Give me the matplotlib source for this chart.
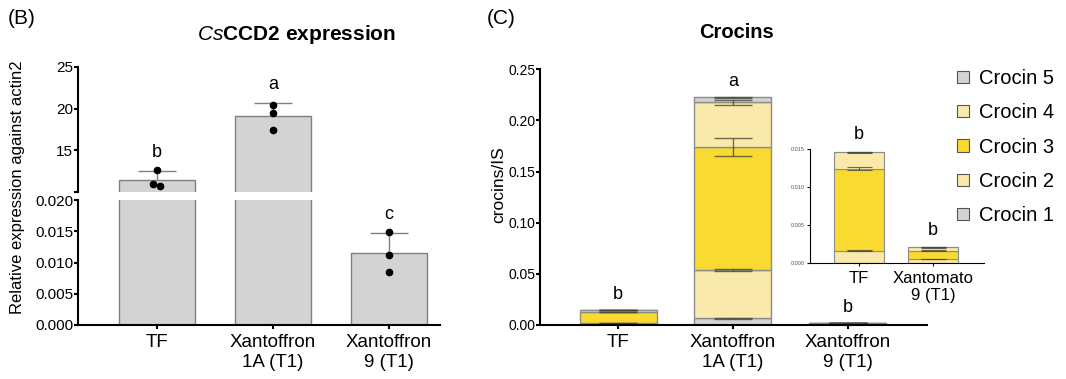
import numpy as np
import matplotlib
matplotlib.use('Agg')
import matplotlib.pyplot as plt
from matplotlib.patches import Patch

plt.rcParams['font.family'] = ['Liberation Sans', 'DejaVu Sans']
plt.rcParams['mathtext.fontset'] = 'custom'
plt.rcParams['mathtext.it'] = 'Liberation Sans:italic'
plt.rcParams['mathtext.bf'] = 'Liberation Sans:bold'
plt.rcParams['mathtext.rm'] = 'Liberation Sans'

# (B) CsCCD2 relative expression against actin2, three replicates per line
lines_b = ['TF', 'Xantoffron\n1A (T1)', 'Xantoffron\n9 (T1)']
rep_tf = [12.7, 10.9, 10.7]
rep_1a = [20.45, 19.5, 17.4]
rep_9 = [0.0149, 0.0112, 0.00855]
jitter_tf = [0.0, -0.035, 0.03]
letters_b = ['b', 'a', 'c']

# (C) crocins/IS, stacked crocin 1 (bottom) .. crocin 5 (top)
lines_c = ['TF', 'Xantoffron\n1A (T1)', 'Xantoffron\n9 (T1)']
crocin_names = ['Crocin 1', 'Crocin 2', 'Crocin 3', 'Crocin 4', 'Crocin 5']
crocin1 = [0.0, 0.0065, 0.0]
crocin2 = [0.00166, 0.0472, 0.00053]
crocin3 = [0.01079, 0.1205, 0.00113]
crocin4 = [0.00216, 0.0434, 0.00044]
crocin5 = [0.00005, 0.0049, 0.00003]
err1 = [0.0, 0.0003, 0.0]
err2 = [0.00003, 0.0007, 0.00002]
err3 = [0.0002, 0.0090, 0.00003]
err4 = [0.00005, 0.0026, 0.00003]
err5 = [0.00002, 0.0004, 0.00002]
letters_c = ['b', 'a', 'b']
inset_lines = ['TF', 'Xantomato\n9 (T1)']
inset_idx = [0, 2]
letters_inset = ['b', 'b']

GRAY = '#d3d3d3'
LYEL = '#f9e9aa'
YEL = '#f8da30'
seg_colors = [GRAY, LYEL, YEL, LYEL, GRAY]
ERR = '#4a4a3a'

W, H = 1066, 379
fig = plt.figure(figsize=(W / 100, H / 100), dpi=100)


def frac(x0, y_top, x1, y_bot):
    return [x0 / W, 1 - y_bot / H, (x1 - x0) / W, (y_bot - y_top) / H]


def style(ax, lw=1.5, tl=3, fs=10.5, pad=1):
    for s in ['top', 'right']:
        ax.spines[s].set_visible(False)
    for s in ['left', 'bottom']:
        ax.spines[s].set_linewidth(lw)
    ax.tick_params(width=lw, length=tl, labelsize=fs)
    ax.tick_params(axis='y', pad=pad)


# ---------------- panel B ----------------
ax_hi = fig.add_axes(frac(78, 67, 440, 192))
ax_lo = fig.add_axes(frac(78, 200, 440, 325))
reps = [rep_tf, rep_1a, rep_9]
means = [np.mean(r) for r in reps]
sds = [np.std(r, ddof=1) for r in reps]
xb = np.arange(len(lines_b))
for ax in (ax_hi, ax_lo):
    style(ax, fs=11, pad=0.5)
    ax.bar(xb, means, 0.66, color=GRAY, edgecolor='#808080', linewidth=1.0)
    ax.vlines(xb, means, np.add(means, sds), color='#808080', lw=1.0)
    ax.hlines(np.add(means, sds), xb - 0.165, xb + 0.165, color='#808080', lw=1.0)
    for i, r in enumerate(reps):
        dx = jitter_tf if i == 0 else [0, 0, 0]
        ax.plot(xb[i] + np.array(dx), r, 'o', color='k', ms=4.5, zorder=5)
    ax.set_xlim(-0.68, 2.44)

ax_hi.set_ylim(10, 25)
ax_hi.set_yticks([10, 15, 20, 25])
ax_hi.set_yticklabels(['', '15', '20', '25'])
ax_hi.spines['bottom'].set_visible(False)
ax_hi.set_xticks([])
ax_lo.set_ylim(0, 0.02)
ax_lo.set_yticks([0, 0.005, 0.01, 0.015, 0.02])
ax_lo.set_yticklabels(['0.000', '0.005', '0.010', '0.015', '0.020'])
ax_lo.set_xticks(xb)
ax_lo.set_xticklabels(lines_b, fontsize=13.5)
for i, lt in enumerate(letters_b):
    top = means[i] + sds[i]
    ax = ax_hi if top > 0.02 else ax_lo
    ax.annotate(lt, (xb[i], top), xytext=(0, 10), textcoords='offset points',
                ha='center', va='baseline', fontsize=13)

fig.text(18 / W, 1 - 187 / H, 'Relative expression against actin2', rotation=90,
         ha='center', va='center', fontsize=12)
fig.text(296 / W, 1 - 35 / H, r'$\mathit{Cs}\mathbf{CCD2\ expression}$',
         ha='center', va='center', fontsize=15)
fig.text(8 / W, 1 - 18 / H, '(B)', ha='left', va='center', fontsize=15)

# ---------------- panel C ----------------
stack = [crocin1, crocin2, crocin3, crocin4, crocin5]
errs = [err1, err2, err3, err4, err5]


def draw_stack(ax, idx, width, cap, lw):
    x = np.arange(len(idx))
    bottom = np.zeros(len(idx))
    for vals, e, c in zip(stack, errs, seg_colors):
        v = np.array(vals)[idx]
        ev = np.array(e)[idx]
        ax.bar(x, v, width, bottom=bottom, color=c, edgecolor='#8c8c8c', linewidth=lw)
        top = bottom + v
        m = v > 0
        ax.errorbar(x[m], top[m], yerr=ev[m], fmt='none', ecolor=ERR, capsize=cap,
                    elinewidth=lw, capthick=lw, alpha=0.8)
        bottom = top
    return x, bottom


ax_c = fig.add_axes(frac(540, 69.3, 927, 325))
style(ax_c, fs=10, pad=0.5)
xc, tops_c = draw_stack(ax_c, [0, 1, 2], 0.67, 14, 1.0)
ax_c.set_xlim(-0.68, 2.69)
ax_c.set_ylim(0, 0.25)
ax_c.set_yticks(np.arange(0, 0.26, 0.05))
ax_c.set_yticklabels([f'{v:.2f}' for v in np.arange(0, 0.26, 0.05)])
ax_c.set_xticks(xc)
ax_c.set_xticklabels(lines_c, fontsize=13.5)
for i, lt in enumerate(letters_c):
    ax_c.annotate(lt, (xc[i], tops_c[i]), xytext=(0, 8), textcoords='offset points',
                  ha='center', va='baseline', fontsize=13)
fig.text(499 / W, 1 - 185 / H, 'crocins/IS', rotation=90, ha='center', va='center',
         fontsize=12.5)
fig.text(737 / W, 1 - 33 / H, 'Crocins', ha='center', va='center', fontsize=14.5,
         fontweight='bold')
fig.text(487 / W, 1 - 18 / H, '(C)', ha='left', va='center', fontsize=15)

# inset
ax_in = fig.add_axes(frac(810, 149.3, 984, 263.3))
style(ax_in, lw=0.8, tl=2, fs=4, pad=2)
xi, tops_i = draw_stack(ax_in, inset_idx, 0.675, 9, 0.8)
ax_in.set_xlim(-0.66, 1.69)
ax_in.set_ylim(0, 0.015)
ax_in.set_yticks([0, 0.005, 0.01, 0.015])
ax_in.set_yticklabels(['0.000', '0.005', '0.010', '0.015'], color='#555555')
ax_in.set_xticks(xi)
ax_in.set_xticklabels(inset_lines, fontsize=12)
ax_in.tick_params(axis='x', labelsize=12)
for i, lt in enumerate(letters_inset):
    ax_in.annotate(lt, (xi[i], tops_i[i]), xytext=(0, 9), textcoords='offset points',
                   ha='center', va='baseline', fontsize=13)

# legend (crocin 5 on top)
handles = [Patch(facecolor=c, edgecolor='#555555', linewidth=0.8, label=n)
           for c, n in zip(seg_colors, crocin_names)][::-1]
fig.legend(handles=handles, loc='upper left', bbox_to_anchor=(957 / W, 1 - 69 / H),
           frameon=False, fontsize=14.5, handlelength=0.6, handleheight=0.55,
           handletextpad=0.5, labelspacing=0.76, borderaxespad=0, borderpad=0)

fig.savefig('out.png', dpi=100)
